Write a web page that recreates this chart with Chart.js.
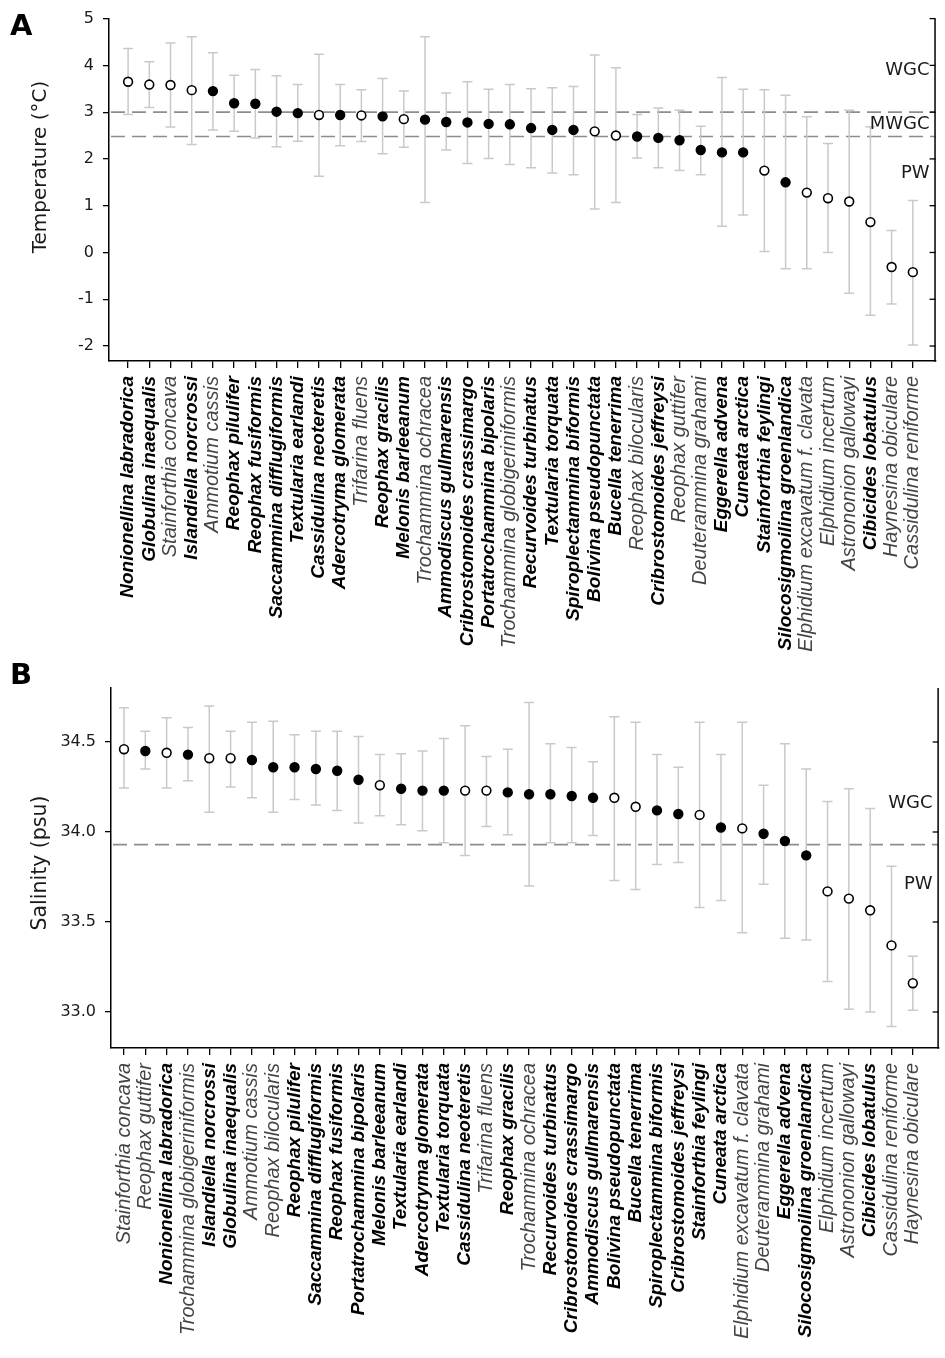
<!DOCTYPE html>
<html>
<head>
<meta charset="utf-8">
<script src="https://cdn.jsdelivr.net/npm/chart.js@4.4.1/dist/chart.umd.min.js"></script>
<style>
html,body{margin:0;padding:0;background:#fff;}
#wrap{position:relative;width:945px;height:1358px;overflow:hidden;}
#ca{position:absolute;left:0;top:0;}
#cb{position:absolute;left:0;top:660px;}
</style>
</head>
<body>
<div id="wrap">
<canvas id="ca" width="945" height="660"></canvas>
<canvas id="cb" width="945" height="698"></canvas>
</div>
<script>
// ---------- Panel A: temperature ----------
const SPECIES_A = [
 'Nonionellina labradorica','Globulina inaequalis','Stainforthia concava','Islandiella norcrossi',
 'Ammotium cassis','Reophax pilulifer','Reophax fusiformis','Saccammina difflugiformis',
 'Textularia earlandi','Cassidulina neoteretis','Adercotryma glomerata','Trifarina fluens',
 'Reophax gracilis','Melonis barleeanum','Trochammina ochracea','Ammodiscus gullmarensis',
 'Cribrostomoides crassimargo','Portatrochammina bipolaris','Trochammina globigeriniformis',
 'Recurvoides turbinatus','Textularia torquata','Spiroplectammina biformis','Bolivina pseudopunctata',
 'Bucella tenerrima','Reophax bilocularis','Cribrostomoides jeffreysi','Reophax guttifer',
 'Deuterammina grahami','Eggerella advena','Cuneata arctica','Stainforthia feylingi',
 'Silocosigmoilina groenlandica','Elphidium excavatum f. clavata','Elphidium incertum',
 'Astrononion gallowayi','Cibicides lobatulus','Haynesina obiculare','Cassidulina reniforme'
];
const TEMP_MEAN = [3.65,3.59,3.58,3.47,3.45,3.19,3.18,3.01,2.98,2.94,2.94,2.93,2.91,2.85,2.84,2.79,2.78,2.75,2.74,
                   2.66,2.62,2.62,2.59,2.50,2.48,2.45,2.40,2.19,2.14,2.14,1.75,1.50,1.28,1.16,1.09,0.65,-0.31,-0.42];
const TEMP_HIGH = [4.36,4.08,4.48,4.61,4.27,3.79,3.91,3.78,3.59,4.24,3.59,3.48,3.72,3.45,4.61,3.41,3.65,3.49,3.59,
                   3.50,3.52,3.55,4.22,3.95,2.95,3.09,3.04,2.70,3.74,3.49,3.48,3.36,2.90,2.33,3.04,2.69,0.47,1.11];
const TEMP_LOW  = [2.95,3.10,2.68,2.31,2.62,2.59,2.45,2.26,2.38,1.63,2.28,2.37,2.11,2.25,1.07,2.19,1.90,2.01,1.88,
                   1.81,1.70,1.66,0.93,1.07,2.02,1.81,1.75,1.66,0.56,0.80,0.02,-0.35,-0.35,0.00,-0.87,-1.34,-1.10,-1.98];
const TEMP_FILLED = [0,0,0,0,1,1,1,1,1,0,1,0,1,0,1,1,1,1,1,
                     1,1,1,0,0,1,1,1,1,1,1,0,1,0,0,0,0,0,0];
const TEMP_TICKS = [-2,-1,0,1,2,3,4,5];
const TEMP_LINES = [3.0, 2.48];
const TEMP_MASS_NAMES = ['WGC','MWGC','PW'];
const TEMP_MASS_AT = [3.9, 2.73, 1.69];

// ---------- Panel B: salinity ----------
const SPECIES_B = [
 'Stainforthia concava','Reophax guttifer','Nonionellina labradorica','Trochammina globigeriniformis',
 'Islandiella norcrossi','Globulina inaequalis','Ammotium cassis','Reophax bilocularis','Reophax pilulifer',
 'Saccammina difflugiformis','Reophax fusiformis','Portatrochammina bipolaris','Melonis barleeanum',
 'Textularia earlandi','Adercotryma glomerata','Textularia torquata','Cassidulina neoteretis','Trifarina fluens',
 'Reophax gracilis','Trochammina ochracea','Recurvoides turbinatus','Cribrostomoides crassimargo',
 'Ammodiscus gullmarensis','Bolivina pseudopunctata','Bucella tenerrima','Spiroplectammina biformis',
 'Cribrostomoides jeffreysi','Stainforthia feylingi','Cuneata arctica','Elphidium excavatum f. clavata',
 'Deuterammina grahami','Eggerella advena','Silocosigmoilina groenlandica','Elphidium incertum',
 'Astrononion gallowayi','Cibicides lobatulus','Cassidulina reniforme','Haynesina obiculare'
];
const SAL_MEAN = [34.46,34.45,34.44,34.43,34.41,34.41,34.40,34.36,34.36,34.35,34.34,34.29,34.26,34.24,34.23,34.23,34.23,34.23,34.22,
                  34.21,34.21,34.20,34.19,34.19,34.14,34.12,34.10,34.095,34.025,34.02,33.99,33.95,33.87,33.67,33.63,33.565,33.37,33.16];
const SAL_HIGH = [34.69,34.56,34.635,34.58,34.70,34.56,34.61,34.615,34.54,34.56,34.56,34.53,34.43,34.435,34.45,34.52,34.59,34.42,34.46,
                  34.72,34.49,34.47,34.39,34.64,34.61,34.43,34.36,34.61,34.43,34.61,34.26,34.49,34.35,34.17,34.24,34.13,33.81,33.31];
const SAL_LOW  = [34.244,34.35,34.244,34.285,34.11,34.25,34.19,34.11,34.18,34.15,34.12,34.05,34.09,34.04,34.007,33.94,33.87,34.03,33.985,
                  33.70,33.94,33.94,33.98,33.73,33.68,33.82,33.83,33.58,33.62,33.44,33.71,33.41,33.40,33.17,33.015,33.00,32.92,33.01];
const SAL_FILLED = [0,1,0,1,0,0,1,1,1,1,1,1,0,1,1,1,0,0,1,
                    1,1,1,1,0,0,1,1,0,1,0,1,1,1,0,0,0,0,0];
const SAL_TICKS = [33.0,33.5,34.0,34.5];
const SAL_LINES = [33.93];
const SAL_MASS_NAMES = ['WGC','PW'];
const SAL_MASS_AT = [34.16, 33.71];

// species printed in light (non-bold) type
const LIGHT_SPECIES = ['Stainforthia concava','Ammotium cassis','Trifarina fluens','Trochammina ochracea',
 'Trochammina globigeriniformis','Reophax bilocularis','Reophax guttifer','Deuterammina grahami',
 'Elphidium excavatum f. clavata','Elphidium incertum','Astrononion gallowayi','Haynesina obiculare',
 'Cassidulina reniforme'];

const decor = {
  id: 'decor',
  beforeDatasetsDraw(chart, args, o) {
    const {ctx, chartArea: a, scales: {x, y}} = chart;
    ctx.save();
    ctx.strokeStyle = '#8d8d8d'; ctx.lineWidth = 1.7; ctx.setLineDash([14, 7]);
    o.lines.forEach(v => {
      const py = y.getPixelForValue(v);
      ctx.beginPath(); ctx.moveTo(a.left + 2, py); ctx.lineTo(a.right, py); ctx.stroke();
    });
    ctx.setLineDash([]);
    ctx.strokeStyle = '#c9c9c9'; ctx.lineWidth = 1.5;
    o.low.forEach((lo, i) => {
      const px = x.getPixelForValue(i);
      const p1 = y.getPixelForValue(lo), p2 = y.getPixelForValue(o.high[i]);
      ctx.beginPath();
      ctx.moveTo(px, p1); ctx.lineTo(px, p2);
      ctx.moveTo(px - 5, p1); ctx.lineTo(px + 5, p1);
      ctx.moveTo(px - 5, p2); ctx.lineTo(px + 5, p2);
      ctx.stroke();
    });
    ctx.restore();
  },
  afterDraw(chart, args, o) {
    const {ctx, chartArea: a, scales: {y}} = chart;
    ctx.save();
    // right axis with inward ticks
    ctx.strokeStyle = '#000'; ctx.lineWidth = 1.5;
    ctx.beginPath(); ctx.moveTo(a.right - 0.5, a.top); ctx.lineTo(a.right - 0.5, a.bottom + 0.75); ctx.stroke();
    ctx.lineWidth = 1.3;
    o.ticks.forEach(v => {
      const py = y.getPixelForValue(v);
      ctx.beginPath(); ctx.moveTo(a.right, py); ctx.lineTo(a.right - 6, py); ctx.stroke();
    });
    // water mass labels
    ctx.fillStyle = '#1a1a1a'; ctx.font = '18px "DejaVu Sans"';
    ctx.textAlign = 'right'; ctx.textBaseline = 'middle';
    o.massNames.forEach((n, i) => ctx.fillText(n, a.right - 6, y.getPixelForValue(o.massAt[i])));
    // panel letter
    ctx.fillStyle = '#000'; ctx.font = 'bold 29px "DejaVu Sans"';
    ctx.textAlign = 'left'; ctx.textBaseline = 'alphabetic';
    ctx.fillText(o.letter, o.letterX, o.letterY);
    // axis title
    ctx.fillStyle = '#1a1a1a'; ctx.font = o.titleFont;
    ctx.translate(o.titleX, o.titleY); ctx.rotate(-Math.PI / 2);
    ctx.textAlign = 'center'; ctx.textBaseline = 'middle';
    ctx.fillText(o.title, 0, 0);
    ctx.restore();
  }
};

function labelFont(name) {
  return LIGHT_SPECIES.includes(name)
    ? {family: '"Liberation Sans", Arial, sans-serif', size: 20, style: 'italic', weight: 'normal'}
    : {family: '"Liberation Sans", Arial, sans-serif', size: 19, style: 'italic', weight: 'bold'};
}

function makeChart(id, c) {
  return new Chart(document.getElementById(id), {
    type: 'scatter',
    data: {
      datasets: [{
        data: c.mean.map((v, i) => ({x: i, y: v})),
        pointRadius: 4.4,
        pointHoverRadius: 4.4,
        pointBorderWidth: 1.6,
        pointBorderColor: '#000',
        pointBackgroundColor: c.filled.map(f => f ? '#000' : '#fff'),
        showLine: false
      }]
    },
    options: {
      responsive: false, animation: false, events: [],
      layout: {padding: {top: c.padTop, right: 2, left: 0, bottom: 0}},
      plugins: {
        legend: {display: false}, tooltip: {enabled: false},
        decor: {
          low: c.low, high: c.high, lines: c.lines, ticks: c.yTicks,
          massNames: c.massNames, massAt: c.massAt,
          letter: c.letter, letterX: 10, letterY: c.letterY,
          title: c.title, titleX: 41, titleY: c.titleY, titleFont: c.titleFont
        }
      },
      scales: {
        x: {
          type: 'linear', min: c.xMin, max: c.xMax,
          afterBuildTicks: s => { s.ticks = c.labels.map((_, i) => ({value: i})); },
          afterFit: s => { s.height = c.xHeight; },
          grid: {drawOnChartArea: false, drawTicks: true, tickLength: 7, color: '#000', lineWidth: 1.3},
          border: {display: true, color: '#000', width: 1.5},
          ticks: {
            autoSkip: false, minRotation: 90, maxRotation: 90, padding: 8,
            callback: v => c.labels[v],
            font: ctx => labelFont(c.labels[ctx.index]),
            color: ctx => LIGHT_SPECIES.includes(c.labels[ctx.index]) ? '#444' : '#000'
          }
        },
        y: {
          type: 'linear', min: c.yMin, max: c.yMax,
          afterBuildTicks: s => { s.ticks = c.yTicks.map(v => ({value: v})); },
          afterFit: s => { s.width = c.yWidth; },
          grid: {drawOnChartArea: false, drawTicks: true, tickLength: 6, color: '#000', lineWidth: 1.3},
          border: {display: true, color: '#000', width: 1.5},
          ticks: {padding: 9, color: '#1a1a1a', font: {family: '"DejaVu Sans"', size: 16}, callback: c.fmt}
        }
      }
    },
    plugins: [decor]
  });
}

makeChart('ca', {
  labels: SPECIES_A, mean: TEMP_MEAN, low: TEMP_LOW, high: TEMP_HIGH, filled: TEMP_FILLED,
  lines: TEMP_LINES, yTicks: TEMP_TICKS, massNames: TEMP_MASS_NAMES, massAt: TEMP_MASS_AT,
  xMin: -0.9, xMax: 38.07, yMin: -2.32, yMax: 5,
  padTop: 14, xHeight: 299, yWidth: 109,
  letter: 'A', letterY: 35, title: 'Temperature (°C)', titleY: 167, titleFont: '20px "DejaVu Sans"',
  fmt: v => String(v)
});

makeChart('cb', {
  labels: SPECIES_B, mean: SAL_MEAN, low: SAL_LOW, high: SAL_HIGH, filled: SAL_FILLED,
  lines: SAL_LINES, yTicks: SAL_TICKS, massNames: SAL_MASS_NAMES, massAt: SAL_MASS_AT,
  xMin: -0.61, xMax: 38.21, yMin: 32.8, yMax: 34.8,
  padTop: 28, xHeight: 310, yWidth: 111,
  letter: 'B', letterY: 24, title: 'Salinity (psu)', titleY: 203, titleFont: '20.5px "DejaVu Sans"',
  fmt: v => v.toFixed(1)
});
</script>
</body>
</html>
